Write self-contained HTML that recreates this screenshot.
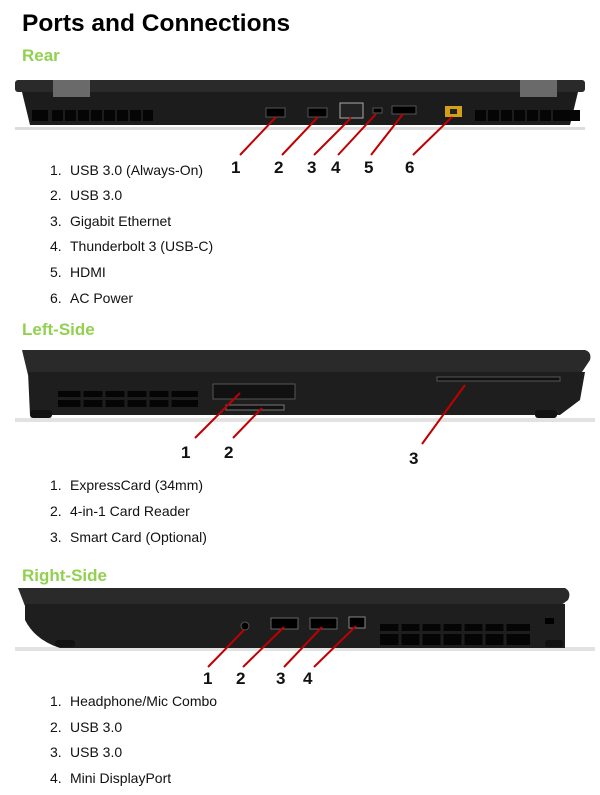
<!DOCTYPE html>
<html><head><meta charset="utf-8"><style>
body{margin:0;background:#fff;width:600px;height:795px;overflow:hidden}
svg{display:block}
.h{font-family:"Liberation Sans",sans-serif;font-weight:bold;fill:#92d050;font-size:17px}
.l{font-family:"Liberation Sans",sans-serif;font-size:14px;fill:#111}
.n{font-family:"Liberation Sans",sans-serif;font-weight:bold;font-size:17px;fill:#111}
.r{stroke:#c00000;stroke-width:2;fill:none}
</style></head><body>
<svg width="600" height="795" xmlns="http://www.w3.org/2000/svg">
<text x="22" y="31" font-family="Liberation Sans,sans-serif" font-weight="bold" font-size="24.5" fill="#000">Ports and Connections</text>
<text class="h" x="22" y="61">Rear</text>
<!-- rear laptop -->
<rect x="15" y="127" width="570" height="3" fill="#ddd"/>
<rect x="15" y="80" width="570" height="12" rx="3" fill="#2a2a2a"/>
<path d="M22 92 H578 L570 125 H30 Z" fill="#1c1c1c"/>
<rect x="53" y="80" width="37" height="17" fill="#6a6a6a"/>
<rect x="520" y="80" width="37" height="17" fill="#6a6a6a"/>
<g fill="#050505">
<rect x="32" y="110" width="16" height="11"/><rect x="52" y="110" width="11" height="11"/><rect x="65" y="110" width="11" height="11"/><rect x="78" y="110" width="11" height="11"/><rect x="91" y="110" width="11" height="11"/><rect x="104" y="110" width="11" height="11"/><rect x="117" y="110" width="11" height="11"/><rect x="130" y="110" width="11" height="11"/><rect x="143" y="110" width="10" height="11"/>
<rect x="475" y="110" width="11" height="11"/><rect x="488" y="110" width="11" height="11"/><rect x="501" y="110" width="11" height="11"/><rect x="514" y="110" width="11" height="11"/><rect x="527" y="110" width="11" height="11"/><rect x="540" y="110" width="11" height="11"/><rect x="553" y="110" width="27" height="11"/>
</g>
<g fill="#000" stroke="#555" stroke-width="1">
<rect x="266" y="108" width="19" height="9"/><rect x="308" y="108" width="19" height="9"/>
<rect x="340" y="103" width="23" height="15" fill="#222" stroke="#aaa"/>
<rect x="373" y="108" width="9" height="5"/><rect x="392" y="106" width="24" height="8"/>
</g>
<rect x="445" y="106" width="17" height="11" fill="#d4a017"/><rect x="450" y="109" width="7" height="5" fill="#222"/>
<line class="r" x1="276" y1="117" x2="240" y2="155"/>
<line class="r" x1="318" y1="117" x2="282" y2="155"/>
<line class="r" x1="351" y1="118" x2="314" y2="155"/>
<line class="r" x1="376" y1="114" x2="338" y2="155"/>
<line class="r" x1="403" y1="114" x2="371" y2="155"/>
<line class="r" x1="452" y1="117" x2="413" y2="155"/>
<text class="n" x="231" y="173">1</text><text class="n" x="274" y="173">2</text><text class="n" x="307" y="173">3</text><text class="n" x="331" y="173">4</text><text class="n" x="364" y="173">5</text><text class="n" x="405" y="173">6</text>
<g class="l">
<text y="175"><tspan x="50">1.</tspan><tspan x="70">USB 3.0 (Always-On)</tspan></text>
<text y="200"><tspan x="50">2.</tspan><tspan x="70">USB 3.0</tspan></text>
<text y="226"><tspan x="50">3.</tspan><tspan x="70">Gigabit Ethernet</tspan></text>
<text y="251"><tspan x="50">4.</tspan><tspan x="70">Thunderbolt 3 (USB-C)</tspan></text>
<text y="277"><tspan x="50">5.</tspan><tspan x="70">HDMI</tspan></text>
<text y="303"><tspan x="50">6.</tspan><tspan x="70">AC Power</tspan></text>
</g>
<text class="h" x="22" y="335">Left-Side</text>
<!-- left side -->
<rect x="15" y="418" width="580" height="4" fill="#e2e2e2"/>
<path d="M22 350 H585 Q592 352 590 360 L580 375 H28 Z" fill="#2a2a2a"/>
<path d="M28 372 H585 L580 400 L560 415 H30 Z" fill="#1e1e1e"/>
<rect x="30" y="410" width="22" height="8" rx="3" fill="#111"/><rect x="535" y="410" width="22" height="8" rx="3" fill="#111"/>
<g fill="#050505">
<rect x="58" y="391" width="140" height="6"/><rect x="58" y="400" width="140" height="7"/>
</g>
<g stroke="#1e1e1e" stroke-width="3"><line x1="82" y1="390" x2="82" y2="408"/><line x1="104" y1="390" x2="104" y2="408"/><line x1="126" y1="390" x2="126" y2="408"/><line x1="148" y1="390" x2="148" y2="408"/><line x1="170" y1="390" x2="170" y2="408"/></g>
<rect x="213" y="384" width="82" height="15" fill="#111" stroke="#555"/>
<rect x="226" y="405" width="58" height="5" fill="#111" stroke="#777"/>
<rect x="437" y="377" width="123" height="4" fill="#111" stroke="#555"/>
<line class="r" x1="240" y1="393" x2="195" y2="438"/>
<line class="r" x1="262" y1="408" x2="233" y2="438"/>
<line class="r" x1="465" y1="385" x2="422" y2="444"/>
<text class="n" x="181" y="458">1</text><text class="n" x="224" y="458">2</text><text class="n" x="409" y="464">3</text>
<g class="l">
<text y="490"><tspan x="50">1.</tspan><tspan x="70">ExpressCard (34mm)</tspan></text>
<text y="516"><tspan x="50">2.</tspan><tspan x="70">4-in-1 Card Reader</tspan></text>
<text y="542"><tspan x="50">3.</tspan><tspan x="70">Smart Card (Optional)</tspan></text>
</g>
<text class="h" x="22" y="581">Right-Side</text>
<!-- right side -->
<rect x="15" y="647" width="580" height="4" fill="#e2e2e2"/>
<path d="M18 588 H565 Q572 592 568 600 L560 606 H25 Z" fill="#2a2a2a"/>
<path d="M25 604 H565 V648 H60 Q35 640 25 620 Z" fill="#1e1e1e"/>
<rect x="55" y="640" width="20" height="7" rx="3" fill="#111"/><rect x="545" y="640" width="18" height="7" rx="3" fill="#111"/>
<g fill="#050505"><rect x="380" y="624" width="150" height="7"/><rect x="380" y="634" width="150" height="11"/></g>
<g stroke="#1e1e1e" stroke-width="3"><line x1="400" y1="622" x2="400" y2="646"/><line x1="421" y1="622" x2="421" y2="646"/><line x1="442" y1="622" x2="442" y2="646"/><line x1="463" y1="622" x2="463" y2="646"/><line x1="484" y1="622" x2="484" y2="646"/><line x1="505" y1="622" x2="505" y2="646"/></g>
<circle cx="245" cy="626" r="4" fill="#000" stroke="#555"/>
<rect x="271" y="618" width="27" height="11" fill="#000" stroke="#666"/>
<rect x="310" y="618" width="27" height="11" fill="#000" stroke="#666"/>
<rect x="349" y="617" width="16" height="11" fill="#000" stroke="#888"/>
<rect x="545" y="618" width="9" height="6" fill="#000"/>
<line class="r" x1="244" y1="630" x2="208" y2="667"/>
<line class="r" x1="284" y1="627" x2="243" y2="667"/>
<line class="r" x1="322" y1="627" x2="284" y2="667"/>
<line class="r" x1="356" y1="626" x2="314" y2="667"/>
<text class="n" x="203" y="684">1</text><text class="n" x="236" y="684">2</text><text class="n" x="276" y="684">3</text><text class="n" x="303" y="684">4</text>
<g class="l">
<text y="706"><tspan x="50">1.</tspan><tspan x="70">Headphone/Mic Combo</tspan></text>
<text y="732"><tspan x="50">2.</tspan><tspan x="70">USB 3.0</tspan></text>
<text y="757"><tspan x="50">3.</tspan><tspan x="70">USB 3.0</tspan></text>
<text y="783"><tspan x="50">4.</tspan><tspan x="70">Mini DisplayPort</tspan></text>
</g>
</svg>
</body></html>
